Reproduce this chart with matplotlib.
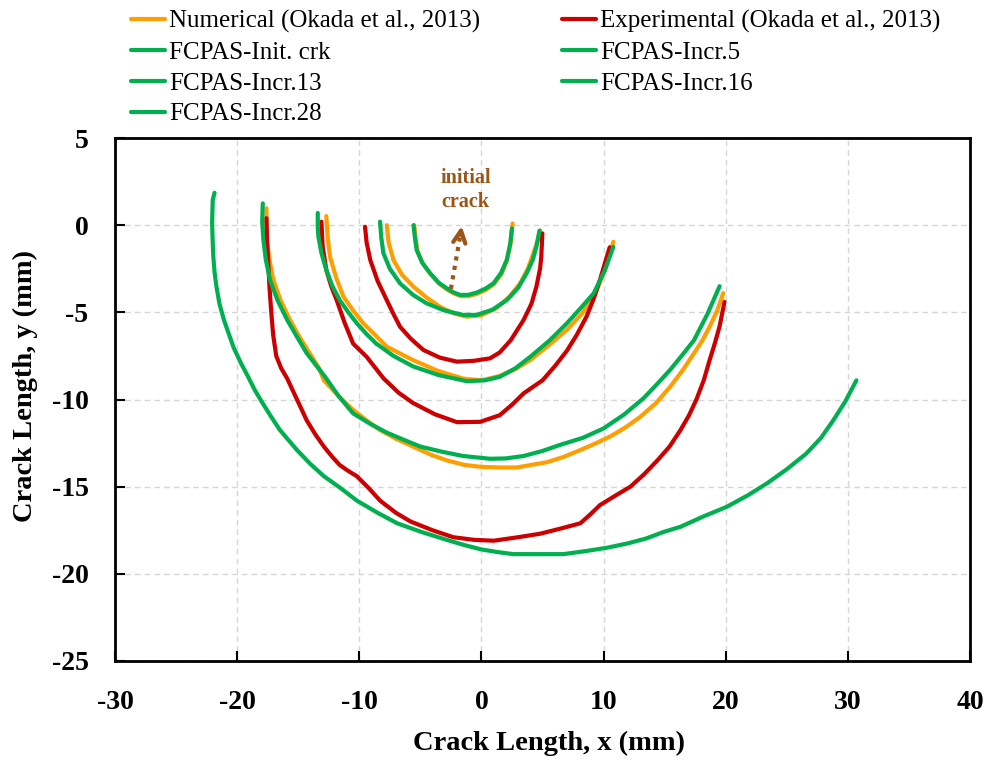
import matplotlib
matplotlib.use("Agg")
import matplotlib.pyplot as plt

# ---------------- data ----------------
# Numerical (Okada et al., 2013) - four crack fronts
num_a_x = [-5.5, -5.4, -5.25, -4.8, -4.15, -3.45, -2.8, -2.25, -1.7, -1.05, -0.35, 0.35, 1.0, 1.65, 2.1, 2.4, 2.55]
num_a_y = [0.0, -0.7, -1.45, -2.2, -2.82, -3.36, -3.7, -3.92, -4.07, -4.07, -3.94, -3.72, -3.4, -2.8, -2.0, -1.0, 0.1]
num_b_x = [-7.75, -7.6, -7.2, -6.5, -5.56, -4.5, -3.4, -2.3, -1.2, 0.0, 1.25, 2.3, 3.17, 3.8, 4.26, 4.6, 4.8]
num_b_y = [0.0, -1.0, -2.0, -2.85, -3.53, -4.15, -4.68, -5.05, -5.25, -5.17, -4.75, -4.1, -3.34, -2.5, -1.6, -0.9, -0.3]
num_c_x = [-12.7, -12.6, -12.4, -11.9, -11.3, -10.5, -9.67, -8.7, -7.75, -6.7, -5.6, -3.6, -1.5,
           0.0, 1.5, 2.8, 4.0, 5.5, 7.0, 8.2, 9.2, 10.1, 10.8]
num_c_y = [0.52, -0.6, -1.8, -3.0, -4.1, -4.9, -5.63, -6.3, -6.97, -7.35, -7.74, -8.35, -8.8,
           -8.9, -8.65, -8.25, -7.74, -6.9, -6.0, -5.1, -4.1, -2.6, -0.95]
num_d_x = [-17.6, -17.6, -17.55, -17.35, -17.05, -16.45, -15.7, -14.9, -14.1, -13.3, -12.9, -11.7,
           -10.5, -9.4, -8.3, -7.0, -5.6, -4.2, -2.8, -1.4, -0.1, 1.5, 2.9, 4.1, 5.35, 6.7, 8.1,
           9.4, 10.6, 11.8, 13.0, 14.3, 15.45, 16.5, 17.4, 18.1, 18.7, 19.3, 19.8]
num_d_y = [0.97, -0.1, -0.9, -2.0, -3.1, -4.3, -5.4, -6.4, -7.3, -8.2, -8.9, -9.8,
           -10.6, -11.2, -11.75, -12.25, -12.7, -13.15, -13.5, -13.75, -13.86, -13.9, -13.9, -13.75,
           -13.6, -13.3, -12.9, -12.5, -12.1, -11.6, -11.0, -10.2, -9.27, -8.3, -7.35, -6.6, -5.8,
           -4.9, -3.9]

# Experimental (Okada et al., 2013) - three crack fronts
exp_a_x = [-9.53, -9.4, -9.1, -8.5, -7.75, -7.2, -6.66, -5.8, -4.75, -3.4, -2.0, -0.6, 0.7, 1.5,
           2.4, 3.45, 4.1, 4.5, 4.8, 4.9, 4.99]
exp_a_y = [-0.09, -1.0, -2.0, -3.2, -4.3, -5.1, -5.83, -6.5, -7.16, -7.6, -7.83, -7.78, -7.64,
           -7.3, -6.6, -5.44, -4.5, -3.53, -2.5, -1.8, -0.47]
exp_b_x = [-13.1, -13.0, -12.7, -12.3, -11.85, -11.2, -10.5, -9.4, -8.0, -6.8, -5.6, -3.8, -2.0,
           -0.1, 1.5, 2.5, 3.45, 5.0, 6.0, 7.0, 7.8, 8.6, 9.2, 9.7, 10.1, 10.5]
exp_b_y = [0.2, -1.2, -2.57, -3.5, -4.3, -5.6, -6.8, -7.55, -8.8, -9.6, -10.2, -10.85, -11.3,
           -11.28, -10.9, -10.3, -9.65, -8.9, -8.1, -7.2, -6.3, -5.25, -4.2, -3.15, -2.2, -1.27]
exp_c_x = [-17.6, -17.55, -17.45, -17.35, -17.2, -17.05, -16.8, -16.4, -15.9, -15.1, -14.3, -13.6,
           -12.9, -12.2, -11.6, -10.9, -10.2, -9.2, -8.3, -7.0, -5.8, -4.0, -2.3, -0.6, 1.0, 3.0,
           4.8, 6.5, 8.1, 8.9, 9.7, 11.0, 12.2, 13.3, 14.4, 15.4, 16.3, 17.0, 17.6, 18.2, 18.7,
           19.1, 19.5, 19.9]
exp_c_y = [0.4, -0.9, -2.2, -3.6, -5.06, -6.3, -7.5, -8.2, -8.8, -10.0, -11.2, -12.0,
           -12.7, -13.3, -13.76, -14.1, -14.4, -15.1, -15.8, -16.5, -17.0, -17.5, -17.9, -18.05,
           -18.1, -17.9, -17.7, -17.4, -17.1, -16.6, -16.06, -15.5, -15.0, -14.3, -13.5, -12.7,
           -11.75, -10.9, -10.0, -8.9, -7.7, -6.8, -5.8, -4.4]

# FCPAS crack fronts
init_x = [-5.56, -5.45, -5.3, -4.85, -4.2, -3.5, -2.84, -2.3, -1.75, -1.1, -0.4, 0.3, 0.98,
          1.6, 2.07, 2.35, 2.5]
init_y = [0.0, -0.7, -1.43, -2.15, -2.76, -3.3, -3.62, -3.85, -4.0, -4.0, -3.87, -3.65, -3.34,
          -2.75, -2.0, -1.1, -0.18]
incr5_x = [-8.3, -8.2, -8.03, -7.5, -6.66, -5.6, -4.5, -3.0, -1.48, -0.4, 0.9, 2.07, 3.0, 3.7,
           4.2, 4.5, 4.75]
incr5_y = [0.2, -0.7, -1.6, -2.5, -3.34, -4.0, -4.48, -4.9, -5.15, -5.15, -4.85, -4.3, -3.6,
           -2.76, -2.0, -1.24, -0.32]
incr13_x = [-13.4, -13.4, -13.35, -13.1, -12.7, -12.2, -11.6, -10.9, -10.2, -9.4, -8.6, -7.2,
            -5.6, -3.5, -1.2, 0.3, 1.5, 2.8, 4.0, 5.6, 7.0, 8.2, 9.2, 10.1, 10.8]
incr13_y = [0.7, -0.1, -0.66, -1.6, -2.57, -3.5, -4.3, -5.0, -5.63, -6.25, -6.8, -7.5,
            -8.1, -8.6, -8.95, -8.9, -8.7, -8.2, -7.55, -6.6, -5.63, -4.7, -3.9, -2.6, -1.24]
incr16_x = [-17.9, -17.95, -17.85, -17.65, -17.3, -16.7, -15.9, -15.1, -14.3, -12.8, -11.7,
            -10.5, -9.1, -7.75, -6.4, -5.0, -3.2, -1.5, 0.7, 2.0, 3.45, 5.0, 6.45, 8.3, 10.0,
            11.7, 13.27, 14.4, 15.45, 16.5, 17.4, 18.5, 19.5]
incr16_y = [1.25, 0.2, -0.85, -2.0, -3.15, -4.3, -5.44, -6.4, -7.35, -8.7, -9.8,
            -10.8, -11.4, -11.9, -12.3, -12.7, -13.0, -13.24, -13.4, -13.38, -13.24, -12.95,
            -12.6, -12.2, -11.66, -10.85, -9.93, -9.1, -8.3, -7.4, -6.6, -5.1, -3.5]
incr28_x = [-21.85, -22.0, -22.05, -22.0, -21.95, -21.85, -21.7, -21.45, -21.1, -20.7, -20.3,
            -19.7, -19.1, -18.6, -18.1, -17.3, -16.5, -15.1, -14.0, -12.9, -11.5, -10.2, -8.5,
            -6.9, -4.9, -2.8, -1.4, 0.0, 1.3, 2.6, 4.6, 6.7, 8.5, 10.3, 12.0, 13.5, 14.9, 16.3,
            18.2, 20.1, 21.8, 23.4, 25.0, 26.6, 27.8, 28.8, 29.8, 30.7]
incr28_y = [1.86, 1.44, 0.1, -1.0, -1.8, -2.7, -3.5, -4.5, -5.4, -6.2, -7.0,
            -7.9, -8.7, -9.4, -10.0, -10.9, -11.75, -12.9, -13.7, -14.4, -15.1, -15.8, -16.5,
            -17.1, -17.6, -18.06, -18.35, -18.6, -18.75, -18.87, -18.87, -18.87, -18.7, -18.5,
            -18.25, -17.97, -17.6, -17.3, -16.7, -16.15, -15.5, -14.8, -14.0, -13.1, -12.2,
            -11.2, -10.1, -8.9]

x_ticks = [-30, -20, -10, 0, 10, 20, 30, 40]
y_ticks = [-25, -20, -15, -10, -5, 0, 5]

# ---------------- styling ----------------
ORANGE = "#FF9E00"
RED = "#CC0000"
GREEN = "#00B050"
BROWN = "#9A5518"
LW = 3.0

plt.rcParams["font.family"] = ["Liberation Serif", "DejaVu Serif"]

fig = plt.figure(figsize=(9.87, 7.64), dpi=100)
ax = fig.add_axes([115 / 987, 103 / 764, 855 / 987, 523 / 764])

kw = dict(lw=LW, solid_joinstyle="round", solid_capstyle="round")
h = {}
for i, (xs, ys) in enumerate([(num_a_x, num_a_y), (num_b_x, num_b_y),
                              (num_c_x, num_c_y), (num_d_x, num_d_y)]):
    ln, = ax.plot(xs, ys, color=ORANGE, zorder=3, **kw)
    if i == 0:
        h["num"] = ln
for i, (xs, ys) in enumerate([(exp_a_x, exp_a_y), (exp_b_x, exp_b_y), (exp_c_x, exp_c_y)]):
    ln, = ax.plot(xs, ys, color=RED, zorder=4, **kw)
    if i == 0:
        h["exp"] = ln
for key, xs, ys in [("init", init_x, init_y), ("i5", incr5_x, incr5_y),
                    ("i13", incr13_x, incr13_y), ("i16", incr16_x, incr16_y),
                    ("i28", incr28_x, incr28_y)]:
    ln, = ax.plot(xs, ys, color=GREEN, zorder=5, **kw)
    h[key] = ln

# initial crack annotation
ax.plot([-2.5, -1.72], [-3.65, -0.55], color=BROWN, lw=3.0, ls=(0, (1, 1.3)), zorder=6)
ax.annotate("", xy=(-1.62, -0.05), xytext=(-1.72, -0.55),
            arrowprops=dict(arrowstyle="->", color=BROWN, lw=3.0, mutation_scale=22,
                            shrinkA=0, shrinkB=0), zorder=6)
ax.text(-1.3, 2.0, "initial\ncrack", color=BROWN, fontsize=14.5, fontweight="bold",
        ha="center", va="center", linespacing=1.25)

# axes
ax.set_xlim(-30, 40)
ax.set_ylim(-25, 5)
ax.set_xticks(x_ticks)
ax.set_yticks(y_ticks)
ax.set_xticklabels([str(v) for v in x_ticks])
ax.set_yticklabels([str(v) for v in y_ticks])
ax.tick_params(axis="both", direction="in", length=7, width=1.5, labelsize=20)
ax.tick_params(axis="x", pad=21)
ax.tick_params(axis="y", pad=19)
for lab in ax.get_xticklabels() + ax.get_yticklabels():
    lab.set_fontweight("bold")
for sp in ax.spines.values():
    sp.set_linewidth(2.0)
    sp.set_color("black")
ax.grid(True, color="#D6D6D6", lw=1.0, ls=(0, (4, 3)))
ax.set_axisbelow(True)

ax.set_xlabel("Crack Length, x (mm)", fontsize=20.5, fontweight="bold", va="center")
ax.xaxis.set_label_coords((549 - 115) / 855, -(743 - 661) / 523)
ax.set_ylabel("Crack Length, y (mm)", fontsize=20.5, fontweight="bold", va="center")
ax.yaxis.set_label_coords((25 - 115) / 855, (661 - 386) / 523)

handles = [h["num"], h["init"], h["i13"], h["i28"], h["exp"], h["i5"], h["i16"]]
labels = ["Numerical (Okada et al., 2013)", "FCPAS-Init. crk", "FCPAS-Incr.13",
          "FCPAS-Incr.28", "Experimental (Okada et al., 2013)", "FCPAS-Incr.5",
          "FCPAS-Incr.16"]
fig.legend(handles, labels, ncol=2, loc="upper left",
           bbox_to_anchor=(130.7 / 987, 1 - 10 / 764), frameon=False,
           fontsize=18, handlelength=1.36, handletextpad=0.17, columnspacing=3.27,
           labelspacing=0.33, borderpad=0, borderaxespad=0)

fig.savefig("out.png", dpi=100)
